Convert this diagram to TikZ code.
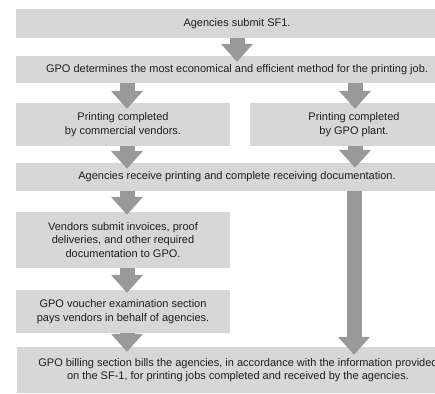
\documentclass[tikz,border=0pt]{standalone}
\usepackage{fontspec}
\setmainfont{Liberation Sans}
\usetikzlibrary{arrows.meta}
\definecolor{boxgray}{HTML}{D7D7D7}
\definecolor{arrowgray}{HTML}{999999}
\definecolor{txtgray}{HTML}{1E1E1E}
\tikzset{
  flowbox/.style={fill=boxgray, draw=none, inner sep=0pt, align=center,
    text=txtgray, font=\fontsize{11pt}{13.5pt}\selectfont},
  bigarrow/.style={draw=arrowgray, line width=15pt,
    -{Triangle[width=31pt,length=18pt]}}
}
\begin{document}
\begin{tikzpicture}[x=1pt,y=-1pt]
\useasboundingbox (0,0) rectangle (435,393);
\fill[white] (0,0) rectangle (435,393);
\clip (0,0) rectangle (435,393);

\node[flowbox, minimum width=442pt, minimum height=29pt] (b1) at (237,23.5)
  {Agencies submit SF1.};
\node[flowbox, minimum width=442pt, minimum height=27pt] (b2) at (237,69.5)
  {GPO determines the most economical and efficient method for the printing job.};
\node[flowbox, minimum width=214pt, minimum height=43pt] (b3a) at (123,124.5)
  {Printing completed\\by commercial vendors.};
\node[flowbox, minimum width=208pt, minimum height=43pt] (b3b) at (354,124.5)
  {Printing completed\\by GPO plant.};
\node[flowbox, minimum width=442pt, minimum height=28pt] (b4) at (237,177)
  {Agencies receive printing and complete receiving documentation.};
\node[flowbox, minimum width=214pt, minimum height=56pt] (b5) at (123,240)
  {Vendors submit invoices, proof\\deliveries, and other required\\documentation to GPO.};
\node[flowbox, minimum width=214pt, minimum height=43pt] (b6) at (123,311.5)
  {GPO voucher examination section\\pays vendors in behalf of agencies.};
\node[flowbox, minimum width=442pt, minimum height=46pt] (b7) at (238,370)
  {GPO billing section bills the agencies, in accordance with the information provided\\on the SF-1, for printing jobs completed and received by the agencies.};

\draw[bigarrow] (b1.south) -- ([yshift=-6pt]b2.north);
\draw[bigarrow] ([xshift=4pt]b3a.north |- b2.south) -- ([xshift=4pt,yshift=-6pt]b3a.north);
\draw[bigarrow] ([xshift=1pt]b3b.north |- b2.south) -- ([xshift=1pt,yshift=-6pt]b3b.north);
\draw[bigarrow] ([xshift=4pt]b3a.south) -- ([xshift=4pt,yshift=-6pt]b3a.south |- b4.north);
\draw[bigarrow] ([xshift=1pt]b3b.south) -- ([xshift=1pt,yshift=-5pt]b3b.south |- b4.north);
\draw[bigarrow] ([xshift=4pt]b5.north |- b4.south) -- ([xshift=4pt,yshift=-3pt]b5.north);
\draw[bigarrow] ([xshift=4pt]b5.south) -- ([xshift=4pt,yshift=-3pt]b6.north);
\draw[bigarrow] ([xshift=4pt]b6.south) -- ([xshift=4pt,yshift=-5pt]b6.south |- b7.north);
\draw[bigarrow] ([xshift=0pt]b3b.south |- b4.south) -- ([yshift=-8pt]b3b.south |- b7.north);
\end{tikzpicture}
\end{document}
